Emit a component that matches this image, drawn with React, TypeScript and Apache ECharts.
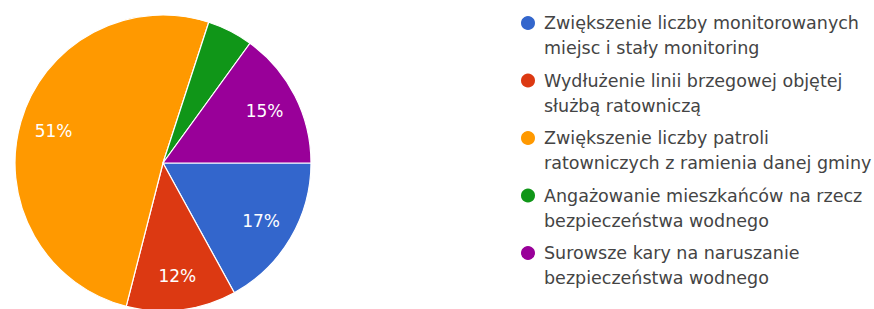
import React, { useEffect, useRef } from "react";
import * as echarts from "echarts";

const categoryLines: string[][] = [
  ["Zwiększenie liczby monitorowanych", "miejsc i stały monitoring"],
  ["Wydłużenie linii brzegowej objętej", "służbą ratowniczą"],
  ["Zwiększenie liczby patroli", "ratowniczych z ramienia danej gminy"],
  ["Angażowanie mieszkańców na rzecz", "bezpieczeństwa wodnego"],
  ["Surowsze kary na naruszanie", "bezpieczeństwa wodnego"],
];
const categories: string[] = categoryLines.map((l) => l.join(" "));
const values: number[] = [17, 12, 51, 5, 15];
const colors: string[] = ["#3366cc", "#dc3912", "#ff9900", "#109618", "#990099"];
const minLabelValue = 6;

export default function App() {
  const ref = useRef<HTMLDivElement>(null);
  useEffect(() => {
    if (!ref.current) return;
    const chart = echarts.init(ref.current, undefined, { renderer: "svg" });
    const data = categories.map((name, i) => ({
      name,
      value: values[i],
      itemStyle: { color: colors[i] },
    }));
    chart.setOption({
      animation: false,
      backgroundColor: "#ffffff",
      legend: {
        orient: "vertical",
        left: 519,
        top: -14.5,
        padding: 0,
        itemWidth: 16,
        itemHeight: 16,
        itemGap: -17.5,
        icon: "circle",
        selectedMode: false,
        data: categories,
        formatter: (name: string) => {
          const i = categories.indexOf(name);
          return "\n" + categoryLines[i].join("\n");
        },
        textStyle: {
          fontFamily: "DejaVu Sans",
          fontSize: 17.5,
          color: "#444444",
          lineHeight: 25,
          padding: [0, 0, 0, 3],
        },
      },
      series: [
        {
          type: "pie",
          center: [163, 163],
          radius: [0, 148],
          startAngle: 0,
          clockwise: true,
          silent: true,
          label: { show: false },
          labelLine: { show: false },
          itemStyle: { borderColor: "#ffffff", borderWidth: 1.2 },
          data,
        },
        {
          type: "pie",
          center: [163, 163],
          radius: [74, 148],
          startAngle: 0,
          clockwise: true,
          silent: true,
          z: 5,
          itemStyle: { color: "rgba(0,0,0,0)", borderWidth: 0 },
          label: {
            show: true,
            position: "inside",
            formatter: (p: any) => p.value + "%",
            color: "#ffffff",
            fontFamily: "DejaVu Sans",
            fontSize: 17,
          },
          labelLine: { show: false },
          data: categories.map((name, i) => ({
            name,
            value: values[i],
            label: { show: values[i] >= minLabelValue },
          })),
        },
      ],
    });
    return () => chart.dispose();
  }, []);
  return (
    <div
      ref={ref}
      style={{ position: "fixed", left: 0, top: 0, width: 874, height: 309 }}
    />
  );
}
